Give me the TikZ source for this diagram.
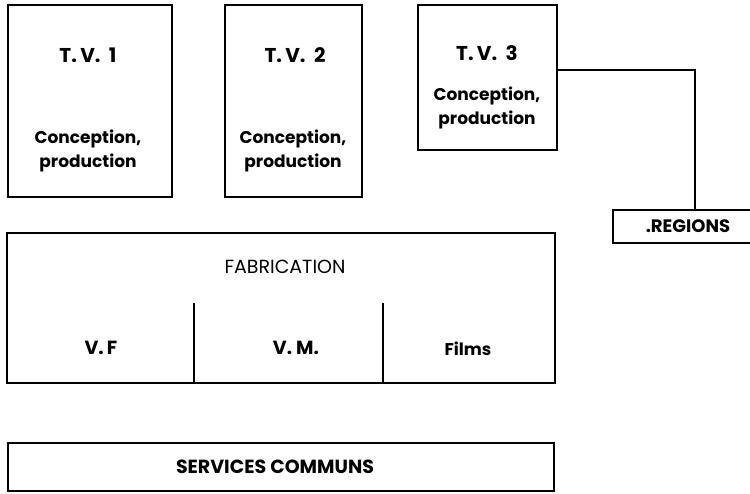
\documentclass[tikz,border=0pt]{standalone}
\usepackage{fontspec}
\setmainfont{Poppins}
\begin{document}
\begin{tikzpicture}[x=1pt,y=-1pt,
  box/.style={draw=black, line width=2.2pt, rectangle, inner sep=0pt},
  lbl/.style={font=\bfseries\fontsize{20}{24}\selectfont, inner sep=0pt, align=center},
  small/.style={font=\bfseries\fontsize{17}{24.5}\selectfont, inner sep=0pt, align=center},
  conn/.style={draw=black, line width=1.5pt}]
\useasboundingbox (0,0) rectangle (750,493);
% TV boxes
\node[box, minimum width=164pt, minimum height=192pt] (tv1) at (90,101) {};
\node[box, minimum width=137pt, minimum height=192pt] (tv2) at (293.5,101) {};
\node[box, minimum width=139pt, minimum height=145pt] (tv3) at (487.5,77.5) {};
\node[lbl] (t1) at (88,55) {T.\,V.\ \ 1};
\node[small] (c1) at (88,151) {Conception,\\production};
\node[lbl] (t2) at (295,55) {T.\,V.\ \ 2};
\node[small] (c2) at (293,151) {Conception,\\production};
\node[lbl] (t3) at (487,53) {T.\,V.\ \ 3};
\node[small] (c3) at (487,108) {Conception,\\production};
% Regions
\node[box, minimum width=150pt, minimum height=33pt] (reg) at (688,226.5) {};
\node[small, font=\bfseries\fontsize{18}{20}\selectfont] (regt) at (688,226) {.REGIONS};
\coordinate (corner) at (695,70);
\draw[conn] (tv3.east |- corner) -- (corner) -- (corner |- reg.north);
% Fabrication
\node[box, minimum width=548pt, minimum height=150pt] (fab) at (281,308) {};
\node[font=\fontsize{19}{22}\selectfont, inner sep=0pt] (fabt) at (285,267) {FABRICATION};
\coordinate (d1) at (194,303);
\coordinate (d2) at (383,303);
\draw[conn] (d1) -- (d1 |- fab.south);
\draw[conn] (d2) -- (d2 |- fab.south);
\node[lbl, font=\bfseries\fontsize{19}{22}\selectfont] (vf) at (101,348) {V.\,F};
\node[lbl, font=\bfseries\fontsize{19}{22}\selectfont] (vm) at (296,348) {V.\ M.};
\node[small] (films) at (468,349) {Films};
% Services communs
\node[box, minimum width=546pt, minimum height=48pt] (serv) at (281,467) {};
\node[lbl, font=\bfseries\fontsize{19}{22}\selectfont] (servt) at (275,467) {SERVICES COMMUNS};
\end{tikzpicture}
\end{document}
